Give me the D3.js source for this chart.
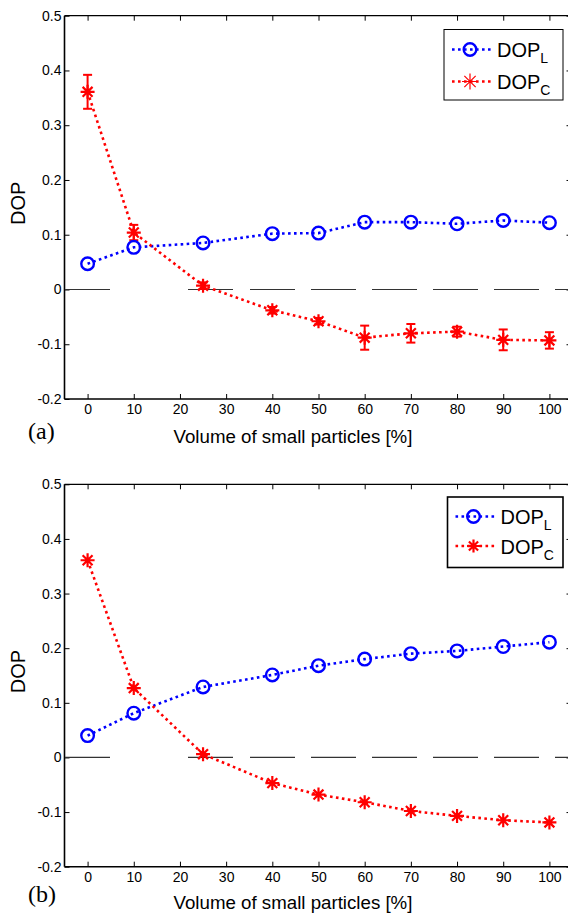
<!DOCTYPE html>
<html><head><meta charset="utf-8">
<script src="https://cdn.jsdelivr.net/npm/d3@7"></script>
<style>
body{margin:0;background:#fff;}
svg{display:block;font-family:"Liberation Sans",Arial,sans-serif;}
</style></head><body>
<svg id="chart" width="568" height="913"></svg>
<script>
const xValues = [0, 10, 25, 40, 50, 60, 70, 80, 90, 100];
const xTicks = [0, 10, 20, 30, 40, 50, 60, 70, 80, 90, 100];
const yTicks = [-0.2, -0.1, 0, 0.1, 0.2, 0.3, 0.4, 0.5];
const dopL_a = [0.047, 0.077, 0.085, 0.102, 0.103, 0.123, 0.123, 0.120, 0.126, 0.122];
const dopC_a = [0.361, 0.104, 0.007, -0.038, -0.058, -0.088, -0.080, -0.077, -0.092, -0.093];
const errC_a = [0.031, 0.014, 0.006, 0.006, 0.006, 0.022, 0.017, 0.009, 0.019, 0.015];
const dopL_b = [0.040, 0.081, 0.129, 0.151, 0.168, 0.180, 0.190, 0.195, 0.203, 0.211];
const dopC_b = [0.361, 0.127, 0.006, -0.047, -0.068, -0.082, -0.098, -0.107, -0.115, -0.119];
const seriesNames = ["L", "C"];
const xLabel = "Volume of small particles [%]";
const yLabel = "DOP";

const svg = d3.select("#chart");
const blue = "#0000ff", red = "#ff0000";
const FONT = "Liberation Sans, Arial, sans-serif";

function starPath(s) {
  const d = s * 0.7071;
  return `M${-s},0L${s},0M0,${-s}L0,${s}M${-d},${-d}L${d},${d}M${-d},${d}L${d},${-d}`;
}
function yFmt(d) {
  if (Math.abs(d) < 1e-9) return "0";
  return (d < 0 ? "-" : "") + Math.abs(d).toFixed(1);
}

function panel(cfg) {
  const g = svg.append("g");
  const x = d3.scaleLinear().domain([-5, 105]).range([64.5, 572.5]);
  const y = d3.scaleLinear().domain([-0.2, 0.5]).range([cfg.bottom, cfg.top]);

  // box
  g.append("line").attr("x1", 64.5).attr("x2", 572).attr("y1", cfg.top).attr("y2", cfg.top).attr("stroke", "#000").attr("stroke-width", 1.2);
  g.append("line").attr("x1", 64.5).attr("x2", 572).attr("y1", cfg.bottom).attr("y2", cfg.bottom).attr("stroke", "#000").attr("stroke-width", 1.6);
  g.append("line").attr("x1", 64.5).attr("x2", 64.5).attr("y1", cfg.top).attr("y2", cfg.bottom).attr("stroke", "#000").attr("stroke-width", 1.6);
  g.append("line").attr("x1", 571.5).attr("x2", 571.5).attr("y1", cfg.top).attr("y2", cfg.bottom).attr("stroke", "#000").attr("stroke-width", 1.2);

  // axes
  const xAxis = d3.axisBottom(x).tickValues(xTicks).tickSizeInner(-5).tickSizeOuter(0).tickPadding(5).tickFormat(d3.format("d"));
  const gx = g.append("g").attr("transform", `translate(0,${cfg.bottom})`).call(xAxis);
  gx.select(".domain").remove();
  gx.selectAll("text").attr("font-size", 14).attr("fill", "#000").attr("font-family", FONT);
  const xTop = d3.axisTop(x).tickValues(xTicks).tickSizeInner(-5).tickSizeOuter(0).tickFormat("");
  const gxt = g.append("g").attr("transform", `translate(0,${cfg.top})`).call(xTop);
  gxt.select(".domain").remove();

  const yAxis = d3.axisLeft(y).tickValues(yTicks).tickSizeInner(-5).tickSizeOuter(0).tickPadding(3).tickFormat(yFmt);
  const gy = g.append("g").attr("transform", "translate(64.5,0)").call(yAxis);
  gy.select(".domain").remove();
  gy.selectAll("text").attr("font-size", 14).attr("fill", "#000").attr("font-family", FONT);
  const yRight = d3.axisRight(y).tickValues(yTicks).tickSizeInner(-5).tickSizeOuter(0).tickFormat("");
  const gyr = g.append("g").attr("transform", "translate(571.5,0)").call(yRight);
  gyr.select(".domain").remove();
  g.selectAll(".tick line").attr("stroke", "#000").attr("stroke-width", 1);

  // zero dashed reference line
  g.append("line").attr("x1", 65).attr("x2", 572).attr("y1", y(0)).attr("y2", y(0))
    .attr("stroke", "#333").attr("stroke-width", 1.2)
    .attr("stroke-dasharray", "45 78 45 17 45 16 45 16 45 16 45 16 45 16 45 16 45 16");

  const line = d3.line().x((d, i) => x(xValues[i])).y(d => y(d));

  g.append("path").attr("d", line(cfg.L)).attr("fill", "none").attr("stroke", blue)
    .attr("stroke-width", 2.6).attr("stroke-dasharray", "2.6 3.4");
  g.append("path").attr("d", line(cfg.C)).attr("fill", "none").attr("stroke", red)
    .attr("stroke-width", 2.6).attr("stroke-dasharray", "2.6 3.4");

  if (cfg.err) {
    const eb = g.append("g").attr("stroke", red).attr("stroke-width", 2);
    cfg.C.forEach((v, i) => {
      const e = cfg.err[i], cx = x(xValues[i]);
      eb.append("line").attr("x1", cx).attr("x2", cx).attr("y1", y(v - e)).attr("y2", y(v + e));
      eb.append("line").attr("x1", cx - 4.5).attr("x2", cx + 4.5).attr("y1", y(v - e)).attr("y2", y(v - e));
      eb.append("line").attr("x1", cx - 4.5).attr("x2", cx + 4.5).attr("y1", y(v + e)).attr("y2", y(v + e));
    });
  }

  g.selectAll(".mL").data(cfg.L).enter().append("circle")
    .attr("cx", (d, i) => x(xValues[i])).attr("cy", d => y(d)).attr("r", 6.3)
    .attr("fill", "none").attr("stroke", blue).attr("stroke-width", 2.4);
  g.selectAll(".mC").data(cfg.C).enter().append("path")
    .attr("transform", (d, i) => `translate(${x(xValues[i])},${y(d)})`)
    .attr("d", starPath(7)).attr("stroke", red).attr("stroke-width", 2.2).attr("fill", "none");

  // labels
  g.append("text").attr("x", 293).attr("y", cfg.bottom + cfg.xlOff).attr("text-anchor", "middle")
    .attr("font-size", 18.7).text(xLabel);
  g.append("text").attr("transform", `translate(24.5,${(cfg.top + cfg.bottom) / 2 - 4}) rotate(-90)`)
    .attr("text-anchor", "middle").attr("font-size", 20).text(yLabel);
  g.append("text").attr("x", 28).attr("y", cfg.bottom + cfg.tagOff).attr("font-family", "Liberation Serif, Times New Roman, serif")
    .attr("font-size", 24).text(cfg.tag);

  // legend
  const lg = cfg.legend;
  g.append("rect").attr("x", lg.x).attr("y", lg.y).attr("width", lg.w).attr("height", lg.h)
    .attr("fill", "#fff").attr("stroke", "#000").attr("stroke-width", lg.sw);
  seriesNames.forEach((nm, k) => {
    const cy = lg.rows[k];
    const col = k === 0 ? blue : red;
    g.append("line").attr("x1", lg.x + 8).attr("x2", lg.x + 47).attr("y1", cy).attr("y2", cy)
      .attr("stroke", col).attr("stroke-width", 2.6).attr("stroke-dasharray", "2.6 3.4");
    const mx = lg.x + 26;
    if (k === 0) {
      g.append("circle").attr("cx", mx).attr("cy", cy).attr("r", 6.3).attr("fill", "none").attr("stroke", blue).attr("stroke-width", 2.4);
    } else {
      g.append("path").attr("transform", `translate(${mx},${cy})`).attr("d", starPath(lg.starSize))
        .attr("stroke", red).attr("stroke-width", lg.starW).attr("fill", "none");
    }
    const t = g.append("text").attr("x", lg.x + 53).attr("y", cy + 7.5).attr("font-size", 20);
    t.append("tspan").text("DOP");
    t.append("tspan").attr("font-size", 14).attr("dy", 6).text(nm);
  });
}

panel({ top: 15.7, bottom: 399, L: dopL_a, C: dopC_a, err: errC_a, tag: "(a)", xlOff: 44, tagOff: 40,
  legend: { x: 444, y: 29.5, w: 119, h: 70.5, sw: 1, rows: [49.5, 81.5], starSize: 8, starW: 1.2 } });
panel({ top: 484.3, bottom: 866.7, L: dopL_b, C: dopC_b, err: null, tag: "(b)", xlOff: 42, tagOff: 35,
  legend: { x: 447.5, y: 497, w: 115.5, h: 70.5, sw: 1.6, rows: [516.5, 546], starSize: 6.5, starW: 2.2 } });
</script>
</body></html>
